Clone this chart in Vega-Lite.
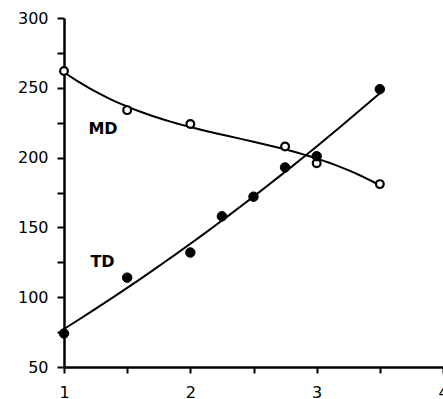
{
  "$schema": "https://vega.github.io/schema/vega-lite/v6.json",
  "width": 379,
  "height": 349,
  "autosize": "none",
  "padding": {"left": 64, "top": 18, "right": 0, "bottom": 32},
  "background": "white",
  "config": {
    "view": {"stroke": null},
    "font": "DejaVu Sans",
    "axis": {
      "grid": false,
      "domainColor": "black",
      "domainWidth": 2.5,
      "tickColor": "black",
      "tickWidth": 2,
      "tickSize": 7,
      "labelColor": "black",
      "labelFont": "DejaVu Sans",
      "labelFontSize": 16,
      "title": null
    }
  },
  "datasets": {
    "pts": [
      {"x": 1, "y": 262, "series": "MD"},
      {"x": 1.5, "y": 234, "series": "MD"},
      {"x": 2, "y": 224, "series": "MD"},
      {"x": 2.75, "y": 208, "series": "MD"},
      {"x": 3, "y": 196, "series": "MD"},
      {"x": 3.5, "y": 181, "series": "MD"},
      {"x": 1, "y": 74, "series": "TD"},
      {"x": 1.5, "y": 114, "series": "TD"},
      {"x": 2, "y": 132, "series": "TD"},
      {"x": 2.25, "y": 158, "series": "TD"},
      {"x": 2.5, "y": 172, "series": "TD"},
      {"x": 2.75, "y": 193, "series": "TD"},
      {"x": 3, "y": 201, "series": "TD"},
      {"x": 3.5, "y": 249, "series": "TD"}
    ],
    "labels": [
      {"x": 1.309, "y": 220.5, "text": "MD"},
      {"x": 1.305, "y": 125, "text": "TD"}
    ]
  },
  "encoding": {
    "x": {
      "field": "x", "type": "quantitative",
      "scale": {"domain": [1, 4], "nice": false, "zero": false},
      "axis": {
        "values": [1, 1.5, 2, 2.5, 3, 3.5, 4],
        "labelExpr": "datum.value % 1 == 0 ? format(datum.value, 'd') : ''",
        "tickSize": 6,
        "labelPadding": 11,
        "labelFlush": false
      }
    },
    "y": {
      "field": "y", "type": "quantitative",
      "scale": {"domain": [50, 300], "nice": false, "zero": false},
      "axis": {
        "values": [50, 75, 100, 125, 150, 175, 200, 225, 250, 275, 300],
        "labelExpr": "datum.value % 50 == 0 ? datum.label : ''",
        "labelPadding": 9
      }
    }
  },
  "layer": [
    {
      "data": {"name": "pts"},
      "transform": [
        {"filter": "datum.series == 'MD'"},
        {"regression": "y", "on": "x", "method": "poly", "order": 3, "extent": [1, 3.5]}
      ],
      "mark": {"type": "line", "color": "black", "strokeWidth": 2}
    },
    {
      "data": {"name": "pts"},
      "transform": [
        {"filter": "datum.series == 'TD'"},
        {"regression": "y", "on": "x", "method": "poly", "order": 2, "extent": [1, 3.5]}
      ],
      "mark": {"type": "line", "color": "black", "strokeWidth": 2}
    },
    {
      "data": {"name": "pts"},
      "transform": [{"filter": "datum.series == 'MD'"}],
      "mark": {"type": "point", "shape": "circle", "filled": true, "fill": "white", "stroke": "black", "strokeWidth": 2.2, "size": 60, "opacity": 1}
    },
    {
      "data": {"name": "pts"},
      "transform": [{"filter": "datum.series == 'TD'"}],
      "mark": {"type": "point", "shape": "circle", "filled": true, "fill": "black", "stroke": "black", "strokeWidth": 1, "size": 90, "opacity": 1}
    },
    {
      "data": {"name": "labels"},
      "mark": {"type": "text", "font": "DejaVu Sans", "fontSize": 16, "fontWeight": "bold", "color": "black", "align": "center", "baseline": "middle"},
      "encoding": {"text": {"field": "text"}}
    }
  ]
}
